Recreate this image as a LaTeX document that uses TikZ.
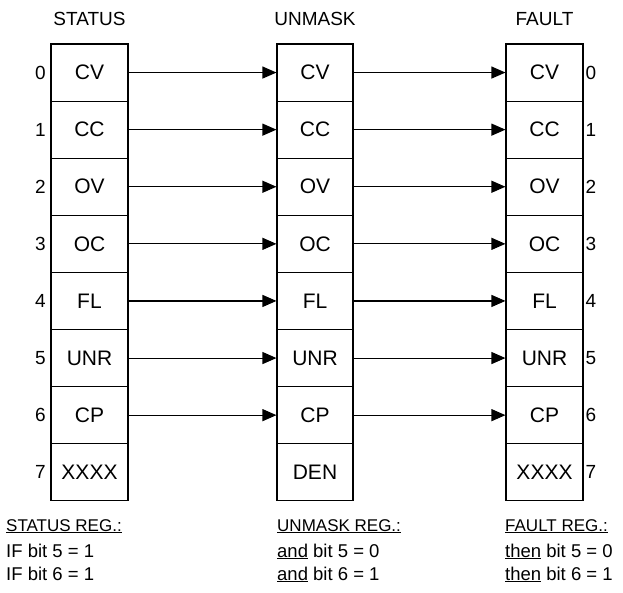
\documentclass[tikz,border=0pt]{standalone}
\usepackage{fontspec}
\setmainfont{Liberation Sans}
\usetikzlibrary{arrows.meta}
\begin{document}
\begin{tikzpicture}[x=1pt,y=-1pt,
  cell/.style={draw, line width=1.1pt, minimum height=57.1pt, inner sep=0pt, font=\fontsize{21}{24}\selectfont},
  cellA/.style={cell, minimum width=77pt},
  cellB/.style={cell, minimum width=76pt},
  title/.style={font=\fontsize{19}{22}\selectfont, inner sep=0pt},
  idx/.style={font=\fontsize{19}{22}\selectfont, inner sep=0pt},
  head/.style={font=\fontsize{17}{20}\selectfont, inner sep=0pt, anchor=base west},
  note/.style={font=\fontsize{18.5}{20}\selectfont, inner sep=0pt, anchor=base west},
  link/.style={line width=1.1pt, -{Triangle[length=14pt,width=12pt]}}
]
\useasboundingbox (0,0) rectangle (623,593);
% titles
\node[title] (tS) at (89.5,19) {STATUS};
\node[title] (tU) at (315,19) {UNMASK};
\node[title] (tF) at (544.5,19) {FAULT};
% cells
\foreach \i/\a/\b/\c in {0/CV/CV/CV,1/CC/CC/CC,2/OV/OV/OV,3/OC/OC/OC,4/FL/FL/FL,5/UNR/UNR/UNR,6/CP/CP/CP,7/XXXX/DEN/XXXX}{
  \node[cellA] (s\i) at (89.5,{72.55+57.1*\i}) {\a};
  \node[cellB] (u\i) at (315,{72.55+57.1*\i}) {\b};
  \node[cellA] (f\i) at (544.5,{72.55+57.1*\i}) {\c};
  \node[idx] (ls\i) at (40.5,{72.55+57.1*\i}) {\i};
  \node[idx] (lf\i) at (591,{72.55+57.1*\i}) {\i};
}
% arrows
\foreach \i in {0,...,6}{
  \draw[link] (s\i.east) -- (u\i.west);
  \draw[link] (u\i.east) -- (f\i.west);
}
% notes
\node[head] (nS0) at (6,531) {\underline{STATUS REG.:}};
\node[note] (nS1) at (6,557) {IF bit 5 = 1};
\node[note] (nS2) at (6,580) {IF bit 6 = 1};
\node[head] (nU0) at (277,531) {\underline{UNMASK REG.:}};
\node[note] (nU1) at (277,557) {\underline{and} bit 5 = 0};
\node[note] (nU2) at (277,580) {\underline{and} bit 6 = 1};
\node[head] (nF0) at (505,531) {\underline{FAULT REG.:}};
\node[note] (nF1) at (505,557) {\underline{then} bit 5 = 0};
\node[note] (nF2) at (505,580) {\underline{then} bit 6 = 1};
\end{tikzpicture}
\end{document}
